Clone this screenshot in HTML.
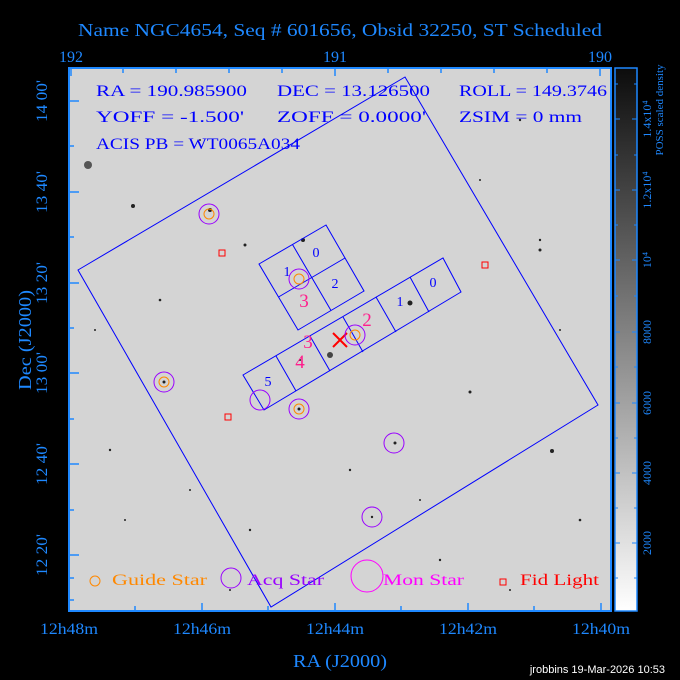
<!DOCTYPE html>
<html><head><meta charset="utf-8"><style>
html,body{margin:0;padding:0;background:#000;}
svg{display:block;font-family:"Liberation Serif",serif;}
</style></head><body>
<svg width="680" height="680" viewBox="0 0 680 680" xmlns="http://www.w3.org/2000/svg">
<defs>
<linearGradient id="cb" x1="0" y1="0" x2="0" y2="1">
<stop offset="0" stop-color="#0c0c0c"/><stop offset="1" stop-color="#ffffff"/>
</linearGradient>
</defs>
<rect x="0" y="0" width="680" height="680" fill="#000"/>
<text x="78" y="36" fill="#1e88ff" font-size="18" textLength="524" lengthAdjust="spacingAndGlyphs">Name NGC4654, Seq # 601656, Obsid 32250, ST Scheduled</text>
<!-- plot -->
<rect x="69" y="68" width="542" height="543" fill="#d4d4d4"/>
<g fill="#222">
<circle cx="88" cy="165" r="4" fill="#555"/><circle cx="133" cy="206" r="2"/><circle cx="245" cy="245" r="1.5"/><circle cx="303" cy="240" r="2"/><circle cx="410" cy="303" r="2.5"/><circle cx="470" cy="392" r="1.5"/><circle cx="552" cy="451" r="2"/><circle cx="210" cy="210" r="2"/><circle cx="160" cy="300" r="1.3"/><circle cx="520" cy="120" r="1.2"/><circle cx="580" cy="520" r="1.3"/><circle cx="110" cy="450" r="1.2"/><circle cx="350" cy="470" r="1.2"/><circle cx="440" cy="560" r="1.2"/><circle cx="250" cy="530" r="1.2"/><circle cx="300" cy="360" r="1"/><circle cx="540" cy="240" r="1.2"/><circle cx="190" cy="490" r="1"/><circle cx="395" cy="443" r="1.5"/><circle cx="372" cy="517" r="1.2"/><circle cx="164" cy="382" r="1.5"/><circle cx="299" cy="409" r="1.5"/>
<circle cx="330" cy="355" r="3" fill="#444"/><circle cx="540" cy="250" r="1.5"/><circle cx="125" cy="520" r="1"/><circle cx="480" cy="180" r="1"/><circle cx="200" cy="140" r="1"/><circle cx="420" cy="500" r="1"/><circle cx="95" cy="330" r="1"/><circle cx="560" cy="330" r="1"/><circle cx="230" cy="590" r="1"/><circle cx="510" cy="590" r="1"/>
</g>
<rect x="69" y="68" width="542" height="543" fill="none" stroke="#1e88ff" stroke-width="2"/>
<!-- ticks -->
<g stroke="#1e88ff" stroke-width="1.5">
<path d="M69 611v-8M202 611v-8M335 611v-8M468 611v-8M601 611v-8M135 611v-5M268 611v-5M401 611v-5M534 611v-5"/>
<path d="M71 68v8M335 68v8M600 68v8M123 68v5M176 68v5M229 68v5M282 68v5M388 68v5M441 68v5M494 68v5M547 68v5"/>
<path d="M69 101h10M69 192h10M69 283h10M69 373h10M69 464h10M69 555h10M69 146h5M69 237h5M69 328h5M69 419h5M69 510h5M69 578h5M69 600h5"/>
</g>
<g fill="#1e88ff" font-size="16" text-anchor="middle">
<text x="71" y="62">192</text><text x="335" y="62">191</text><text x="600" y="62">190</text>
<text x="69" y="634" textLength="58" lengthAdjust="spacingAndGlyphs">12h48m</text><text x="202" y="634" textLength="58" lengthAdjust="spacingAndGlyphs">12h46m</text><text x="335" y="634" textLength="58" lengthAdjust="spacingAndGlyphs">12h44m</text><text x="468" y="634" textLength="58" lengthAdjust="spacingAndGlyphs">12h42m</text><text x="601" y="634" textLength="58" lengthAdjust="spacingAndGlyphs">12h40m</text>
<text x="340" y="667" font-size="18" textLength="94" lengthAdjust="spacingAndGlyphs">RA (J2000)</text>
<text transform="translate(47,101) rotate(-90)" textLength="42" lengthAdjust="spacingAndGlyphs">14 00'</text>
<text transform="translate(47,192) rotate(-90)" textLength="42" lengthAdjust="spacingAndGlyphs">13 40'</text>
<text transform="translate(47,283) rotate(-90)" textLength="42" lengthAdjust="spacingAndGlyphs">13 20'</text>
<text transform="translate(47,373) rotate(-90)" textLength="42" lengthAdjust="spacingAndGlyphs">13 00'</text>
<text transform="translate(47,464) rotate(-90)" textLength="42" lengthAdjust="spacingAndGlyphs">12 40'</text>
<text transform="translate(47,555) rotate(-90)" textLength="42" lengthAdjust="spacingAndGlyphs">12 20'</text>
<text transform="translate(31,340) rotate(-90)" font-size="18" textLength="100" lengthAdjust="spacingAndGlyphs">Dec (J2000)</text>
</g>
<text x="665" y="673" fill="#fff" font-size="11" font-family="Liberation Sans,sans-serif" text-anchor="end">jrobbins 19-Mar-2026 10:53</text>
<!-- colorbar -->
<rect x="615" y="68" width="22" height="543" fill="url(#cb)" stroke="#1e88ff" stroke-width="1.5"/>
<g stroke="#1e88ff" stroke-width="1">
<path d="M615 119h5M632 119h5M615 190h5M632 190h5M615 260h5M632 260h5M615 332h5M632 332h5M615 403h5M632 403h5M615 473h5M632 473h5M615 543h5M632 543h5M615 84h3M634 84h3M615 155h3M634 155h3M615 225h3M634 225h3M615 296h3M634 296h3M615 367h3M634 367h3M615 438h3M634 438h3M615 508h3M634 508h3M615 578h3M634 578h3"/>
</g>
<g fill="#1e88ff" font-size="12" text-anchor="middle">
<text transform="translate(651,119) rotate(-90)">1.4x10⁴</text>
<text transform="translate(651,190) rotate(-90)">1.2x10⁴</text>
<text transform="translate(651,260) rotate(-90)">10⁴</text>
<text transform="translate(651,332) rotate(-90)">8000</text>
<text transform="translate(651,403) rotate(-90)">6000</text>
<text transform="translate(651,473) rotate(-90)">4000</text>
<text transform="translate(651,543) rotate(-90)">2000</text>
<text transform="translate(663,110) rotate(-90)" font-size="11">POSS scaled density</text>
</g>
<!-- info text -->
<g fill="#0000ff" font-size="16" lengthAdjust="spacingAndGlyphs">
<text x="96" y="96" textLength="151" lengthAdjust="spacingAndGlyphs">RA = 190.985900</text><text x="277" y="96" textLength="153" lengthAdjust="spacingAndGlyphs">DEC = 13.126500</text><text x="459" y="96" textLength="148" lengthAdjust="spacingAndGlyphs">ROLL = 149.3746</text>
<text x="96" y="122" textLength="148" lengthAdjust="spacingAndGlyphs">YOFF =  -1.500'</text><text x="277" y="122" textLength="149" lengthAdjust="spacingAndGlyphs">ZOFF =  0.0000'</text><text x="459" y="122" textLength="123" lengthAdjust="spacingAndGlyphs">ZSIM = 0 mm</text>
<text x="96" y="149" textLength="204" lengthAdjust="spacingAndGlyphs">ACIS PB = WT0065A034</text>
</g>
<!-- field -->
<g fill="none" stroke="#0000ff" stroke-width="1">
<polygon points="405,77 598,405 271,607 78,270"/>
<polygon points="326,225 364,291 298,330 259,264"/>
<line x1="292.5" y1="244.5" x2="331" y2="310.5"/><line x1="278.5" y1="297" x2="345" y2="258"/>
<polygon points="243,375 443,258 461,292 264,410"/>
<line x1="276" y1="356" x2="296" y2="391"/><line x1="310" y1="336" x2="330" y2="371"/><line x1="343" y1="317" x2="363" y2="352"/><line x1="376" y1="297" x2="396" y2="332"/><line x1="410" y1="277" x2="429" y2="312"/>
</g>
<g fill="#0000ff" font-size="14" text-anchor="middle">
<text x="316" y="257">0</text><text x="287" y="276">1</text><text x="335" y="288">2</text>
<text x="433" y="287">0</text><text x="400" y="306">1</text><text x="268" y="386">5</text>
</g>
<g fill="#ff1e8c" font-size="19" text-anchor="middle">
<text x="304" y="307">3</text><text x="367" y="326">2</text><text x="308" y="348">3</text><text x="300" y="368">4</text>
</g>
<g stroke="#ff0000" stroke-width="2"><path d="M333 333l14 14M347 333l-14 14"/></g>
<g fill="none" stroke="#9900ff" stroke-width="1">
<circle cx="209" cy="214" r="10"/><circle cx="299" cy="279" r="10"/><circle cx="355" cy="335" r="10"/><circle cx="164" cy="382" r="10"/><circle cx="260" cy="400" r="10"/><circle cx="299" cy="409" r="10"/><circle cx="394" cy="443" r="10"/><circle cx="372" cy="517" r="10"/>
</g>
<g fill="none" stroke="#ff8800" stroke-width="1">
<circle cx="209" cy="214" r="5"/><circle cx="299" cy="279" r="5"/><circle cx="355" cy="335" r="5"/><circle cx="164" cy="382" r="5"/><circle cx="299" cy="409" r="5"/>
</g>
<g fill="none" stroke="#ff0000" stroke-width="1">
<rect x="219" y="250" width="6" height="6"/><rect x="482" y="262" width="6" height="6"/><rect x="225" y="414" width="6" height="6"/>
</g>
<!-- legend -->
<circle cx="95" cy="581" r="5" fill="none" stroke="#ff8800"/>
<text x="112" y="585" fill="#ff8800" font-size="16" textLength="95" lengthAdjust="spacingAndGlyphs">Guide Star</text>
<circle cx="231" cy="578" r="10" fill="none" stroke="#9900ff"/>
<text x="247" y="585" fill="#9900ff" font-size="16" textLength="77" lengthAdjust="spacingAndGlyphs">Acq Star</text>
<circle cx="367" cy="576" r="16" fill="none" stroke="#ff00ff"/>
<text x="383" y="585" fill="#ff00ff" font-size="16" textLength="81" lengthAdjust="spacingAndGlyphs">Mon Star</text>
<rect x="500" y="579" width="6" height="6" fill="none" stroke="#ff0000"/>
<text x="520" y="585" fill="#ff0000" font-size="16" textLength="79" lengthAdjust="spacingAndGlyphs">Fid Light</text>
</svg>
</body></html>
